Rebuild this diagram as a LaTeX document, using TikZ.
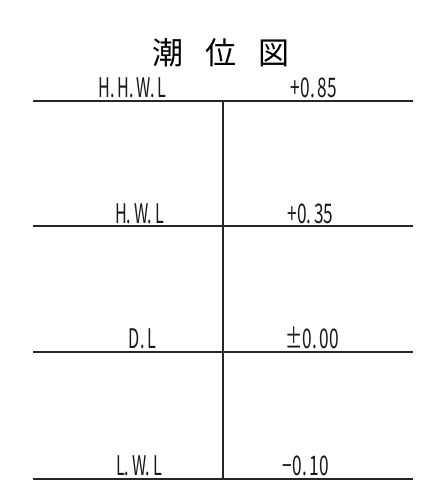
\documentclass[tikz,border=0pt]{standalone}
\usepackage{fontspec}
\setmainfont{Noto Sans CJK JP}
\newcommand{\sq}[2]{\scalebox{#1}[1]{#2}}
\begin{document}
\begin{tikzpicture}[x=1pt,y=-1pt]
\tikzset{
  lvl/.style={font=\fontsize{27}{27}\selectfont, inner sep=0pt, anchor=base, text=black!90},
  ttl/.style={font=\fontsize{31}{31}\selectfont, inner sep=0pt, anchor=center, text=black},
  rule/.style={line width=1.4pt, draw=black!85}
}
\useasboundingbox (0,0) rectangle (445,495);
% title
\node[ttl] (t1) at (167.5,53) {潮};
\node[ttl] (t2) at (220.5,53) {位};
\node[ttl] (t3) at (273.5,53) {図};
% horizontal rules
\coordinate (a1) at (33,101);  \coordinate (a2) at (413,101);
\coordinate (b1) at (33,226);  \coordinate (b2) at (413,226);
\coordinate (c1) at (33,352);  \coordinate (c2) at (413,352);
\coordinate (d1) at (33,479);  \coordinate (d2) at (413,479);
\coordinate (v1) at (223,101); \coordinate (v2) at (223,479);
\draw[rule] (a1) -- (a2);
\draw[rule] (b1) -- (b2);
\draw[rule] (c1) -- (c2);
\draw[rule] (d1) -- (d2);
\draw[rule] (v1) -- (v2);
% labels
\node[lvl] (hhwl) at (132.5,97) {\sq{0.6}{H.\,H.\,W.\,L}};
\node[lvl] (hhwlv) at (314,97) {\sq{0.64}{+0.\,85}};
\node[lvl] (hwl) at (139.5,223) {\sq{0.6}{H.\,W.\,L}};
\node[lvl] (hwlv) at (310.5,223) {\sq{0.64}{+0.\,35}};
\node[lvl] (dl) at (142.5,348) {\sq{0.6}{D.\,L}};
\node[lvl] (dlv) at (312,348) {\sq{0.64}{±0.\,00}};
\node[lvl] (lwl) at (139,475) {\sq{0.6}{L.\,W.\,L}};
\node[lvl] (lwlv) at (306,475) {\sq{0.64}{−0.\,10}};
\end{tikzpicture}
\end{document}
